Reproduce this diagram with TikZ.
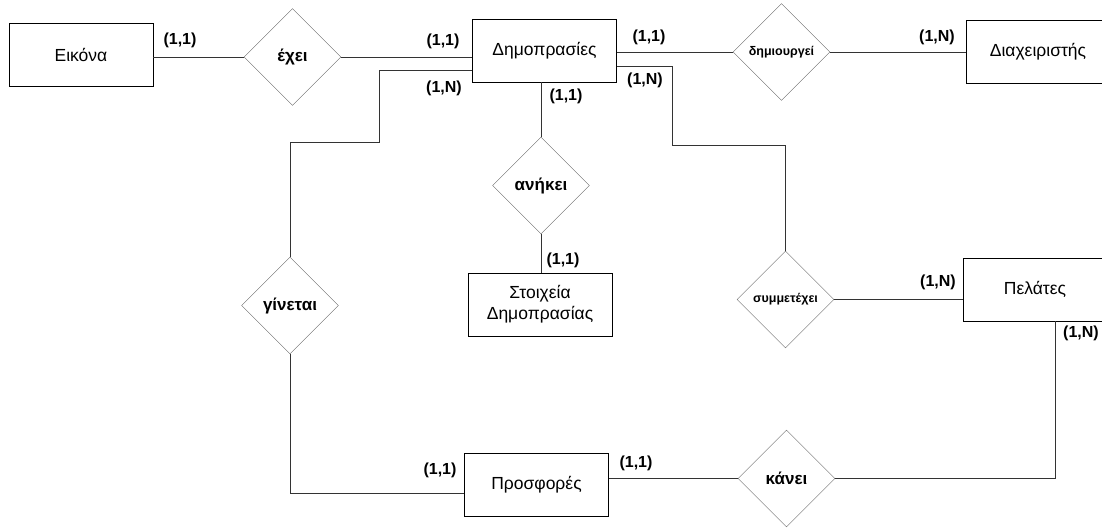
\documentclass[tikz,border=0pt]{standalone}
\usepackage{fontspec}
\setmainfont{Liberation Sans}
\usetikzlibrary{shapes.geometric}
\begin{document}
\begin{tikzpicture}[x=1pt,y=-1pt,
  ent/.style={draw=black,rectangle,minimum width=144pt,minimum height=63pt,inner sep=0pt,font=\fontsize{17.5}{21}\selectfont,align=center},
  rel/.style={draw=black!60,diamond,minimum width=97pt,minimum height=97pt,inner sep=0pt,font=\fontsize{17}{19}\selectfont\bfseries},
  relsm/.style={rel,font=\fontsize{12.5}{14}\selectfont\bfseries},
  card/.style={inner sep=0pt,font=\fontsize{16}{18}\selectfont\bfseries},
  conn/.style={draw=black!80,line width=0.8pt}]
\useasboundingbox (0,0) rectangle (1102,527);
% entities
\node[ent] (eikona) at (81,55) {Εικόνα};
\node[ent] (dim) at (544.5,50.5) {Δημοπρασίες};
\node[ent] (diax) at (1038,52) {Διαχειριστής};
\node[ent] (stoix) at (540,304.5) {Στοιχεία\\Δημοπρασίας};
\node[ent] (pel) at (1035,289.5) {Πελάτες};
\node[ent] (pros) at (536.5,485) {Προσφορές};
% relationships
\node[rel] (exei) at (292.5,57) {έχει};
\node[relsm] (dimio) at (781.5,52) {δημιουργεί};
\node[rel] (anikei) at (541,185.5) {ανήκει};
\node[rel] (ginetai) at (290,305.5) {γίνεται};
\node[relsm] (symm) at (785.5,299.5) {συμμετέχει};
\node[rel] (kanei) at (786.5,478.5) {κάνει};
% connectors
\draw[conn] (eikona.east |- exei.west) -- (exei.west);
\draw[conn] (exei.east) -- (exei.east -| dim.west);
\draw[conn] (dim.east |- dimio.west) -- (dimio.west);
\draw[conn] (dimio.east) -- (dimio.east -| diax.west);
\draw[conn] (anikei.north |- dim.south) -- (anikei.north);
\draw[conn] (anikei.south) -- (anikei.south |- stoix.north);
\coordinate (l1) at (379,70);
\coordinate (l2) at (379,142);
\coordinate (l3) at (290,142);
\draw[conn] (dim.west |- l1) -- (l1) -- (l2) -- (l3) -- (ginetai.north);
\coordinate (r1) at (672,66);
\coordinate (r2) at (672,145);
\draw[conn] (dim.east |- r1) -- (r1) -- (r2) -- (r2 -| symm.north) -- (symm.north);
\draw[conn] (symm.east) -- (symm.east -| pel.west);
\coordinate (b1) at (290,493);
\draw[conn] (ginetai.south) -- (b1) -- (b1 -| pros.west);
\draw[conn] (pros.east |- kanei.west) -- (kanei.west);
\coordinate (k1) at (1055,478.5);
\draw[conn] (kanei.east) -- (k1) -- (k1 |- pel.south);
% cardinalities
\node[card] (c1) at (180,40) {(1,1)};
\node[card] (c2) at (443,41) {(1,1)};
\node[card] (c3) at (649,37) {(1,1)};
\node[card] (c4) at (444,88) {(1,N)};
\node[card] (c5) at (566,96) {(1,1)};
\node[card] (c6) at (645,80) {(1,N)};
\node[card] (c7) at (937,37) {(1,N)};
\node[card] (c8) at (563,260) {(1,1)};
\node[card] (c9) at (938,282) {(1,N)};
\node[card] (c10) at (1081,333) {(1,N)};
\node[card] (c11) at (440,470) {(1,1)};
\node[card] (c12) at (636,463) {(1,1)};
\end{tikzpicture}
\end{document}
